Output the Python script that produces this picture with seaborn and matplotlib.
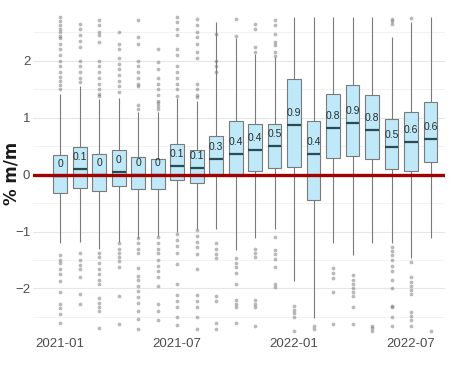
import numpy as np
import pandas as pd
import matplotlib
matplotlib.use("Agg")
import matplotlib.pyplot as plt
import seaborn as sns
from matplotlib import font_manager

# ---------------- data ----------------
months = ["2021-01", "2021-02", "2021-03", "2021-04", "2021-05", "2021-06",
          "2021-07", "2021-08", "2021-09", "2021-10", "2021-11", "2021-12",
          "2022-01", "2022-02", "2022-03", "2022-04", "2022-05", "2022-06",
          "2022-07", "2022-08"]
whisker_low = [-1.20, -1.19, -1.30, -1.19, -1.12, -1.07, -1.01, -0.95, -0.95, -1.33,
               -1.12, -0.95, -1.86, -2.52, -1.21, -1.41, -1.21, -1.21, -1.47, -1.12]
q1 = [-0.32, -0.23, -0.29, -0.20, -0.25, -0.25, -0.10, -0.14, -0.01, -0.02,
      0.07, 0.12, 0.13, -0.45, 0.29, 0.32, 0.28, 0.10, 0.06, 0.22]
median = [-0.02, 0.09, 0.00, 0.04, 0.00, -0.01, 0.15, 0.12, 0.28, 0.36,
          0.44, 0.51, 0.88, 0.37, 0.82, 0.91, 0.79, 0.49, 0.58, 0.63]
q3 = [0.35, 0.49, 0.36, 0.43, 0.31, 0.28, 0.53, 0.44, 0.67, 0.94,
      0.89, 0.89, 1.68, 0.95, 1.42, 1.58, 1.39, 0.98, 1.10, 1.28]
whisker_high = [1.42, 1.55, 1.33, 1.35, 1.10, 1.10, 1.35, 1.30, 2.68, 2.40,
                2.12, 2.06, 2.77, 2.77, 2.77, 2.77, 2.77, 2.42, 2.68, 2.77]
mean_labels = ["0", "0.1", "0", "0", "0", "0", "0.1", "0.1", "0.3", "0.4",
               "0.4", "0.5", "0.9", "0.4", "0.8", "0.9", "0.8", "0.5", "0.6", "0.6"]
outliers_high = [
    [2.77, 2.70, 2.63, 2.56, 2.50, 2.44, 2.40, 2.30, 2.20, 2.10, 2.00, 1.90, 1.80, 1.72, 1.65, 1.58, 1.50],
    [2.65, 2.55, 2.45, 2.35, 2.25, 2.00, 1.90, 1.80, 1.70, 1.62],
    [2.71, 2.62, 2.50, 2.45, 2.33, 2.00, 1.90, 1.80, 1.70, 1.60, 1.50, 1.42, 1.38],
    [2.51, 2.30, 2.20, 2.05, 1.95, 1.85, 1.75, 1.65, 1.55, 1.45],
    [2.71, 2.42, 2.30, 2.00, 1.90, 1.80, 1.70, 1.60, 1.55, 1.23, 1.15],
    [2.20, 1.98, 1.85, 1.70, 1.60, 1.50, 1.40, 1.30, 1.25, 1.20, 1.15],
    [2.77, 2.68, 2.55, 2.45, 2.20, 2.10, 1.90, 1.80, 1.70, 1.60, 1.50, 1.38],
    [2.74, 2.62, 2.50, 2.42, 2.30, 2.15, 2.05, 1.60, 1.50, 1.40, 1.36],
    [2.47, 2.00, 1.90, 1.80],
    [2.74, 2.44],
    [2.65, 2.56, 2.24, 2.15],
    [2.71, 2.62, 2.47, 2.33, 2.27, 2.15, 2.09],
    [], [], [], [], [],
    [2.74, 2.70, 2.65],
    [2.75],
    [],
]
outliers_low = [
    [-1.42, -1.50, -1.55, -1.65, -1.75, -1.87, -2.07, -2.27, -2.35, -2.45, -2.60],
    [-1.37, -1.50, -1.58, -1.65, -1.80, -2.10, -2.27],
    [-1.37, -1.45, -1.55, -1.65, -1.75, -1.85, -1.92, -2.17, -2.25, -2.32, -2.40, -2.69],
    [-1.21, -1.30, -1.38, -1.45, -1.52, -1.63, -2.13, -2.62],
    [-1.12, -1.20, -1.30, -1.37, -1.64, -1.78, -1.85, -1.95, -2.05, -2.15, -2.26, -2.40, -2.54, -2.71],
    [-1.10, -1.20, -1.30, -1.37, -1.50, -1.60, -1.70, -1.80, -1.95, -2.27, -2.40, -2.55],
    [-1.04, -1.15, -1.25, -1.37, -1.57, -1.92, -2.12, -2.22, -2.33, -2.50, -2.65],
    [-0.98, -1.08, -1.18, -1.28, -1.40, -1.65, -2.12, -2.22, -2.33, -2.50, -2.71],
    [-1.20, -1.30, -1.40, -1.47, -2.13, -2.22, -2.60, -2.71],
    [-1.47, -1.55, -1.63, -1.72, -1.92, -2.20, -2.27, -2.33, -2.60],
    [-1.30, -1.38, -1.45, -2.20, -2.27, -2.33, -2.66],
    [-1.10, -1.33, -1.40, -1.48, -1.63, -1.92, -1.98],
    [-2.30, -2.37, -2.43, -2.50, -2.75],
    [-2.66, -2.72],
    [-1.64, -1.72, -1.81, -2.06, -2.63],
    [-1.77, -1.85, -1.92, -2.00, -2.07, -2.13, -2.33, -2.63],
    [-2.66, -2.70, -2.75],
    [-1.28, -1.35, -1.42, -1.50, -1.60, -1.70, -1.85, -1.99, -2.30, -2.33, -2.50, -2.66],
    [-1.53, -1.80, -1.88, -1.95, -2.02, -2.10, -2.42, -2.48, -2.55, -2.66],
    [-2.75],
]
shown_ticks = ["2021-01", "2021-07", "2022-01", "2022-07"]
y_label = "% m/m"

# ---------------- style ----------------
sns.set_theme(style="white")
available = {f.name for f in font_manager.fontManager.ttflist}
narrow = "Liberation Sans Narrow" if "Liberation Sans Narrow" in available else "Liberation Sans"
plt.rcParams["font.family"] = [narrow, "DejaVu Sans"]

box_df = pd.DataFrame({
    "month": np.repeat(months, 5),
    "value": np.column_stack([whisker_low, q1, median, q3, whisker_high]).ravel(),
})
out_df = pd.DataFrame(
    [(m, v) for m, hi, lo in zip(months, outliers_high, outliers_low) for v in hi + lo],
    columns=["month", "value"],
)

fig, ax = plt.subplots(figsize=(4.52, 3.80), dpi=100)
fig.subplots_adjust(left=0.073, right=0.985, bottom=0.124, top=0.963)

ax.set_yticks([-2, -1, 0, 1, 2])
ax.set_yticks([-2.5, -1.5, -0.5, 0.5, 1.5, 2.5], minor=True)
ax.grid(axis="y", which="major", color="#e6e6e6", linewidth=0.8)
ax.grid(axis="y", which="minor", color="#f0f0f0", linewidth=0.6)
ax.grid(axis="x", visible=False)
ax.set_axisbelow(True)

sns.stripplot(data=out_df, x="month", y="value", order=months, jitter=False,
              color="#505050", alpha=0.4, size=2.7, linewidth=0, ax=ax, zorder=1)
sns.boxplot(data=box_df, x="month", y="value", order=months, whis=(0, 100),
            width=0.7, color="#bfe9f8", saturation=1, linecolor="#7a7a7a",
            linewidth=0.8, fliersize=0, showcaps=False,
            medianprops=dict(color="#2c4a52", linewidth=1.6), ax=ax)

ax.axhline(0, color="#a30000", linewidth=2.4, zorder=6)

for i, lab in enumerate(mean_labels):
    ax.annotate(lab, (i, median[i]), xytext=(0, 12), textcoords="offset pixels",
                ha="center", va="center", fontsize=7.5, color="#2b2b2b", zorder=7)

ax.set_ylim(-2.78, 2.82)
ax.set_xlim(-1.4, 19.75)
ax.set_xticks([months.index(t) for t in shown_ticks])
ax.set_xticklabels(shown_ticks)
ax.tick_params(axis="both", which="both", length=0, labelsize=9.5, colors="#4d4d4d")
ax.tick_params(axis="x", pad=4)
ax.tick_params(axis="y", pad=2)
ax.set_xlabel("")
ax.set_ylabel(y_label, fontsize=12, fontweight="bold", color="#1a1a1a",
              family=["DejaVu Sans"])
ax.yaxis.set_label_coords(-0.03, 0.5)
for s in ax.spines.values():
    s.set_visible(False)

fig.savefig("out.png", dpi=100, facecolor="white")
